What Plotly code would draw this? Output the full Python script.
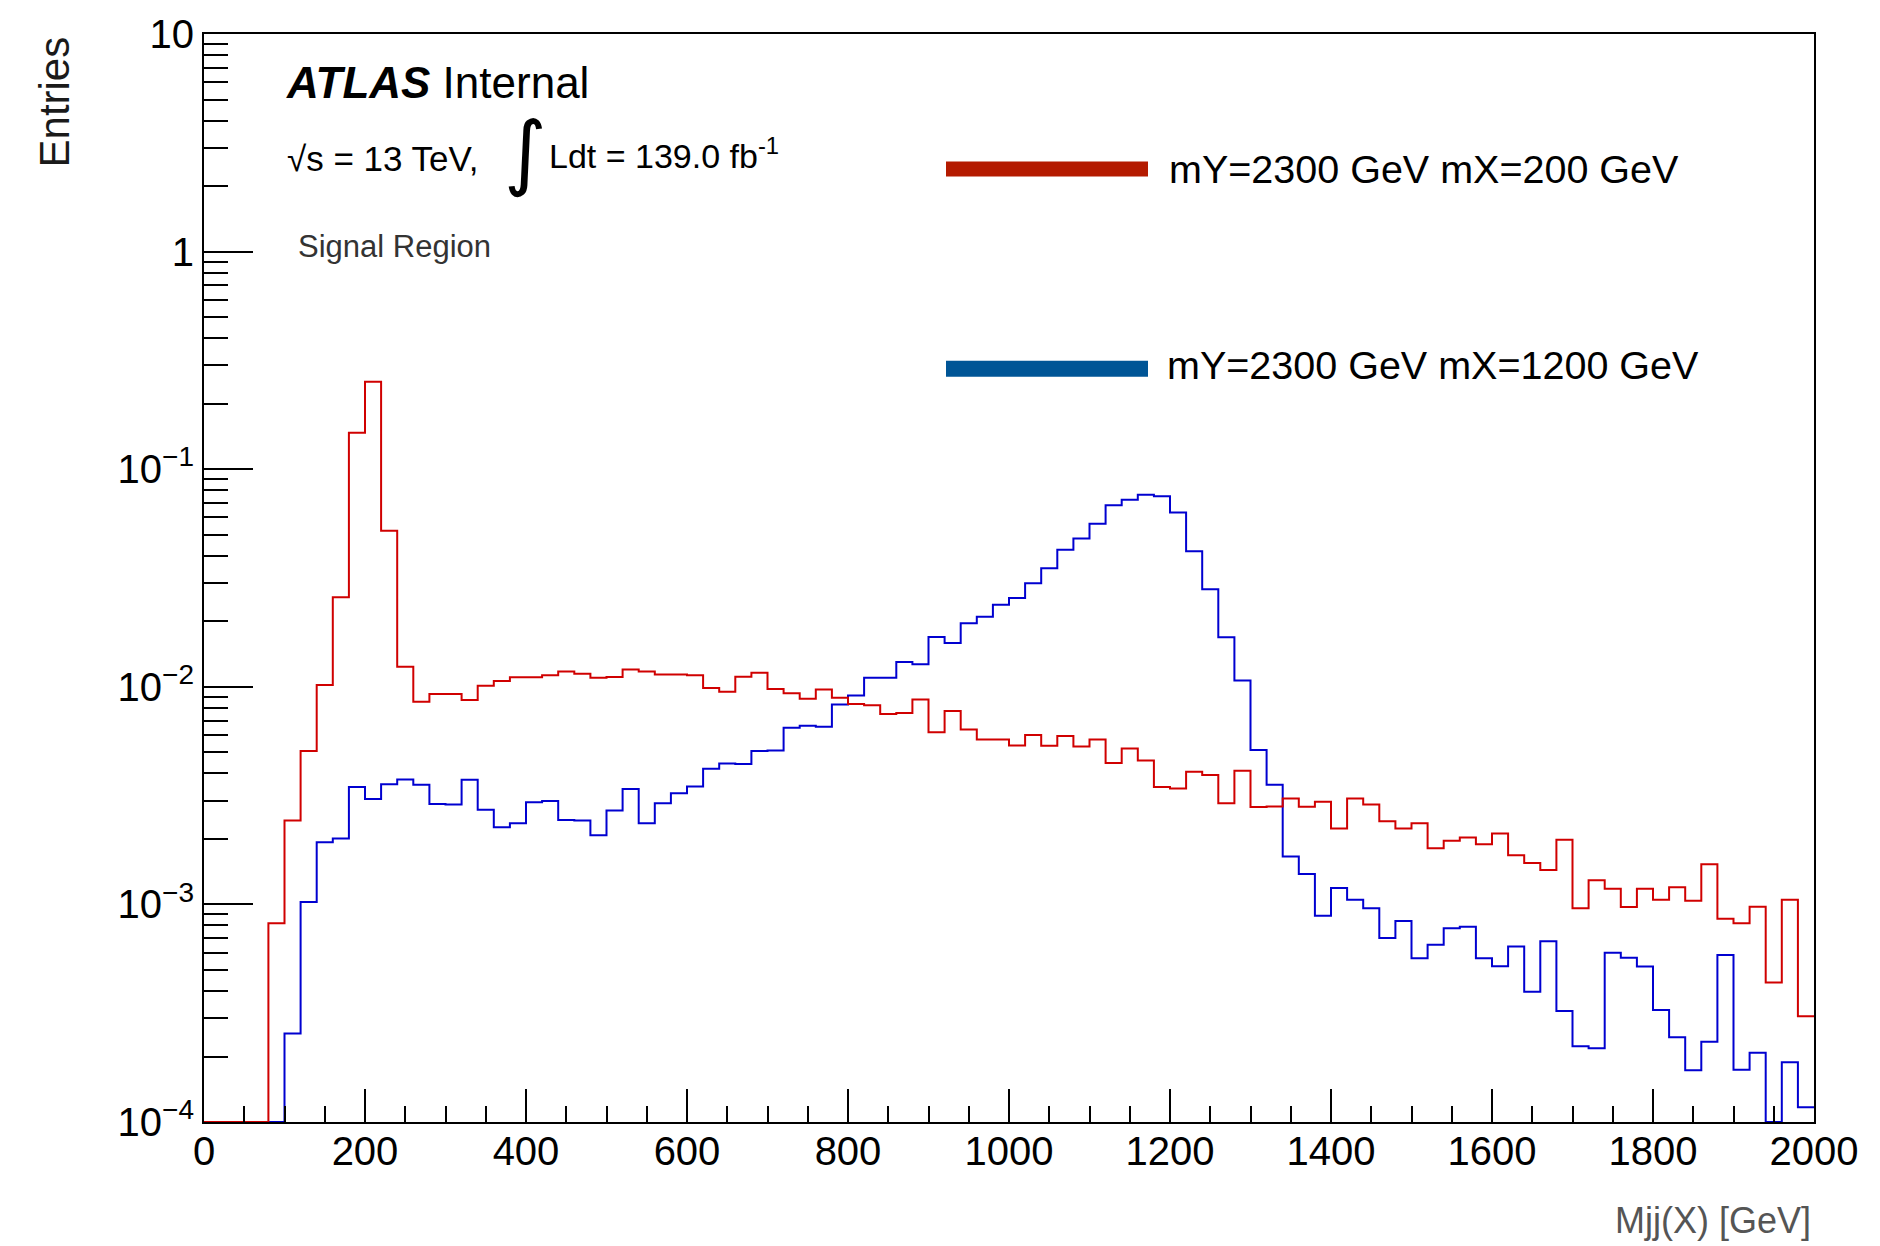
import numpy as np
import plotly.graph_objects as go

# ---------------- data ----------------
bin_edges = list(range(0, 2001, 20))  # Mjj(X) bins [GeV]

red_label = "mY=2300 GeV mX=200 GeV"
red_values = [
    0, 0, 0, 0, 8.2e-4, 2.43e-3, 5.07e-3, 0.0102, 0.0258, 0.147,
    0.252, 0.0522, 0.01235, 0.00853, 0.00926, 0.00926, 0.00869, 0.0101, 0.01064, 0.01107,
    0.01107, 0.0113, 0.01175, 0.01147, 0.0110, 0.0111, 0.0120, 0.01175, 0.01138, 0.01138,
    0.0113, 0.00987, 0.00949, 0.01111, 0.01159, 0.00976, 0.00935, 0.00881, 0.00973, 0.00891,
    0.00833, 0.00822, 0.00750, 0.00757, 0.00875, 0.00618, 0.00774, 0.00636, 0.00572, 0.00572,
    0.00537, 0.00601, 0.00536, 0.00594, 0.00531, 0.00572, 0.00447, 0.00520, 0.00458, 0.00346,
    0.00341, 0.00407, 0.00393, 0.00292, 0.00411, 0.00280, 0.00282, 0.00307, 0.00281, 0.00296,
    0.00223, 0.00307, 0.00288, 0.00241, 0.00223, 0.00236, 0.00181, 0.00196, 0.00203, 0.00189,
    0.00212, 0.00168, 0.00155, 0.00144, 0.00198, 0.00096, 0.00129, 0.00118, 0.000973, 0.00118,
    0.00105, 0.00120, 0.00104, 0.00153, 0.00086, 0.00082, 0.000976, 0.000438, 0.00105, 0.000306,
]

blue_label = "mY=2300 GeV mX=1200 GeV"
blue_values = [
    0, 0, 0, 0, 0, 2.55e-4, 1.026e-3, 1.93e-3, 2.01e-3, 3.46e-3,
    3.05e-3, 3.57e-3, 3.75e-3, 3.55e-3, 2.89e-3, 2.88e-3, 3.74e-3, 2.72e-3, 2.26e-3, 2.36e-3,
    2.95e-3, 2.99e-3, 2.44e-3, 2.43e-3, 2.08e-3, 2.70e-3, 3.39e-3, 2.36e-3, 2.92e-3, 3.24e-3,
    3.48e-3, 4.20e-3, 4.44e-3, 4.42e-3, 5.07e-3, 5.10e-3, 6.49e-3, 6.62e-3, 6.56e-3, 8.29e-3,
    9.12e-3, 0.0110, 0.0110, 0.0130, 0.0127, 0.01694, 0.0159, 0.0196, 0.0210, 0.0238,
    0.0256, 0.0299, 0.0351, 0.0426, 0.0480, 0.0562, 0.0682, 0.0724, 0.0763, 0.0752,
    0.0633, 0.0420, 0.0281, 0.0169, 0.0107, 5.13e-3, 3.55e-3, 1.66e-3, 1.38e-3, 8.87e-4,
    1.19e-3, 1.05e-3, 9.6e-4, 7.01e-4, 8.39e-4, 5.66e-4, 6.52e-4, 7.77e-4, 7.9e-4, 5.65e-4,
    5.2e-4, 6.4e-4, 3.97e-4, 6.77e-4, 3.24e-4, 2.23e-4, 2.18e-4, 6.0e-4, 5.69e-4, 5.19e-4,
    3.27e-4, 2.45e-4, 1.73e-4, 2.34e-4, 5.86e-4, 1.74e-4, 2.08e-4, 0, 1.88e-4, 1.17e-4,
]

x_ticks = list(range(0, 2001, 200))
y_tickvals = [1e-4, 1e-3, 1e-2, 1e-1, 1, 10]
y_ticktext = ["10<sup>\u22124</sup>", "10<sup>\u22123</sup>", "10<sup>\u22122</sup>",
              "10<sup>\u22121</sup>", "1", "10"]

# ---------------- layout constants ----------------
FIG_W, FIG_H = 1880, 1246
M_L, M_R, M_T, M_B = 204, 66, 30, 124
Y_MIN_EXP, Y_MAX_EXP = -4, 1
Y_MIN = 10 ** Y_MIN_EXP
FONT = "Liberation Sans, Arial, Helvetica, sans-serif"


def px_x(p):
    return (p - M_L) / (FIG_W - M_L - M_R)


def px_y(p):
    return (FIG_H - M_B - p) / (FIG_H - M_T - M_B)


def hist_xy(values):
    # ROOT draws empty bins at the axis minimum
    v = [val if val > 0 else Y_MIN for val in values]
    return bin_edges, v + [v[-1]]


fig = go.Figure()

for vals, col in [(blue_values, "#0000d0"), (red_values, "#d00000")]:
    hx, hy = hist_xy(vals)
    fig.add_trace(go.Scatter(
        x=hx, y=hy, mode="lines", line=dict(color=col, width=2, shape="hv"),
        showlegend=False, hoverinfo="skip", cliponaxis=True,
    ))

minor_y = [k * 10 ** d for d in range(Y_MIN_EXP, Y_MAX_EXP) for k in range(2, 10)]

fig.update_layout(
    width=FIG_W, height=FIG_H, autosize=False,
    margin=dict(l=M_L, r=M_R, t=M_T, b=M_B, pad=0),
    paper_bgcolor="white", plot_bgcolor="white",
    font=dict(family=FONT, color="black"),
    showlegend=False,
    xaxis=dict(
        range=[0, 2000], tickmode="array", tickvals=x_ticks,
        ticktext=[str(t) for t in x_ticks],
        ticks="inside", ticklen=33, tickwidth=2, tickcolor="black",
        tickfont=dict(size=40, family=FONT, color="black"),
        ticklabelstandoff=-7,
        minor=dict(ticks="inside", ticklen=16, tickwidth=2, tickcolor="black",
                   tickmode="linear", tick0=0, dtick=50, showgrid=False),
        showline=True, linecolor="black", linewidth=2, mirror=True,
        showgrid=False, zeroline=False,
    ),
    yaxis=dict(
        type="log", range=[Y_MIN_EXP, Y_MAX_EXP], tickmode="array",
        tickvals=y_tickvals, ticktext=y_ticktext,
        ticks="inside", ticklen=49, tickwidth=2, tickcolor="black",
        tickfont=dict(size=40, family=FONT, color="black"),
        minor=dict(ticks="inside", ticklen=24, tickwidth=2, tickcolor="black",
                   tickmode="array", tickvals=minor_y, showgrid=False),
        showline=True, linecolor="black", linewidth=2, mirror=True,
        showgrid=False, zeroline=False,
    ),
)

ann = []


def add_text(text, x, y, size, xanchor="left", yanchor="middle", color="black", angle=0, family=FONT):
    ann.append(dict(text=text, x=px_x(x), y=px_y(y), xref="paper", yref="paper",
                    xanchor=xanchor, yanchor=yanchor, showarrow=False, textangle=angle,
                    font=dict(size=size, family=family, color=color)))


add_text("<b><i>ATLAS</i></b> Internal", 284, 79, 44)
add_text("\u221as = 13 TeV,", 285, 155, 35)
add_text("\u222b", 502, 148, 82, family="DejaVu Sans")
add_text("Ldt = 139.0 fb<sup>-1</sup>", 547, 150, 34)
add_text("Signal Region", 296, 243, 31, color="#333333")

# legend
fig.add_shape(type="rect", xref="paper", yref="paper",
              x0=px_x(946), x1=px_x(1148), y0=px_y(158), y1=px_y(173),
              fillcolor="#b41a00", line=dict(width=0))
fig.add_shape(type="rect", xref="paper", yref="paper",
              x0=px_x(946), x1=px_x(1148), y0=px_y(358), y1=px_y(374),
              fillcolor="#005596", line=dict(width=0))
add_text(red_label, 1167, 165, 39.5)
add_text(blue_label, 1165, 362, 39.5)

# axis titles
add_text("Entries", 54, 31, 42, xanchor="center", yanchor="top", color="#1a1a1a", angle=-90)
add_text("Mjj(X) [GeV]", 1813, 1221, 36, xanchor="right", color="#555555")

fig.update_layout(annotations=ann)

fig.write_html("out.html")
